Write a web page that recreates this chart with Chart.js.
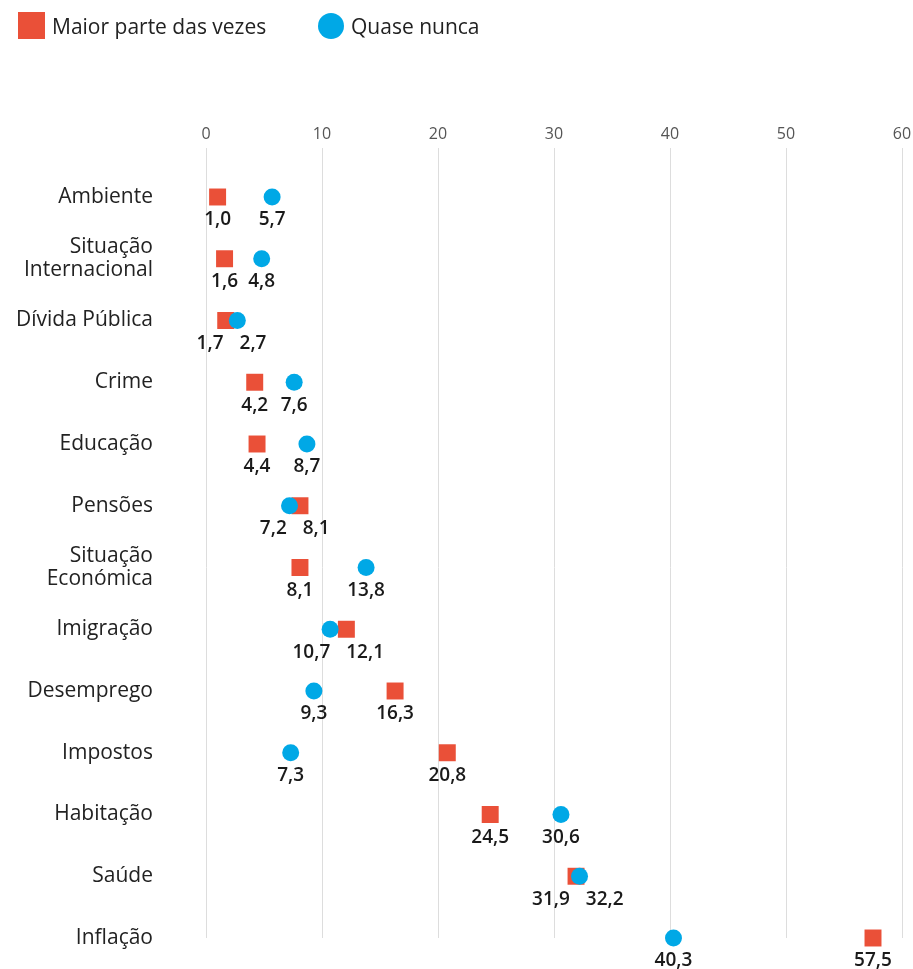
<!DOCTYPE html>
<html>
<head>
<meta charset="utf-8" />
<script src="https://cdn.jsdelivr.net/npm/chart.js@4"></script>
<style>
  body { margin: 0; background: #fff; font-family: 'Open Sans', sans-serif; }
  #wrap { position: relative; width: 913px; height: 969px; }
  .item { position: absolute; top: 12px; display: flex; align-items: center; font-size: 21px; color: #222; height: 27px; }
  .sw { display: inline-block; width: 27px; height: 27px; margin-right: 7px; }
</style>
</head>
<body>
<div id="wrap">
  <div class="item" style="left:18px"><span class="sw" style="background:#ea5038"></span>Maior parte das vezes</div>
  <div class="item" style="left:318px"><span class="sw" style="background:#00a8e6;border-radius:50%;width:26px;height:26px"></span>Quase nunca</div>
  <canvas id="chart" width="913" height="969"></canvas>
</div>
<script>
// categorias (linhas)
var temas = [
  'Ambiente', ['Situação', 'Internacional'], 'Dívida Pública', 'Crime', 'Educação', 'Pensões',
  ['Situação', 'Económica'], 'Imigração', 'Desemprego', 'Impostos', 'Habitação', 'Saúde', 'Inflação'
];
var maiorParte = [1.0, 1.6, 1.7, 4.2, 4.4, 8.1, 8.1, 12.1, 16.3, 20.8, 24.5, 31.9, 57.5];
var quaseNunca = [5.7, 4.8, 2.7, 7.6, 8.7, 7.2, 13.8, 10.7, 9.3, 7.3, 30.6, 32.2, 40.3];
var xTicks = [0, 10, 20, 30, 40, 50, 60];

var red = '#ea5038';
var blue = '#00a8e6';

function fmt(v) { return v.toFixed(1).replace('.', ','); }

// labels under the markers, pushed apart when they collide
var valueLabels = {
  id: 'valueLabels',
  afterDatasetsDraw: function(chart) {
    var ctx = chart.ctx;
    var xs = chart.scales.x, ys = chart.scales.y;
    ctx.save();
    ctx.font = '600 19px "Open Sans"';
    ctx.fillStyle = '#1a1a1a';
    ctx.textAlign = 'center';
    ctx.textBaseline = 'middle';
    for (var i = 0; i < temas.length; i++) {
      var y = ys.getPixelForValue(i) + 23;
      var a = { t: fmt(maiorParte[i]), x: xs.getPixelForValue(maiorParte[i]) };
      var b = { t: fmt(quaseNunca[i]), x: xs.getPixelForValue(quaseNunca[i]) };
      a.w = ctx.measureText(a.t).width;
      b.w = ctx.measureText(b.t).width;
      var left = a.x <= b.x ? a : b;
      var right = left === a ? b : a;
      var need = (left.w + right.w) / 2 + 10;
      if (right.x - left.x < need) {
        var mid = (left.x + right.x) / 2;
        var sep = need + 6;
        left.lx = mid - sep / 2;
        right.lx = mid + sep / 2;
      } else {
        left.lx = left.x;
        right.lx = right.x;
      }
      ctx.fillText(a.t, a.lx, y);
      ctx.fillText(b.t, b.lx, y);
    }
    ctx.restore();
  }
};

var ctx = document.getElementById('chart').getContext('2d');
var chart = new Chart(ctx, {
  type: 'line',
  data: {
    labels: temas,
    datasets: [{
      label: 'Maior parte das vezes',
      data: maiorParte,
      showLine: false,
      pointStyle: 'rect',
      pointRadius: 12,
      pointBackgroundColor: red,
      pointBorderWidth: 0,
      clip: false,
      order: 2
    }, {
      label: 'Quase nunca',
      data: quaseNunca,
      showLine: false,
      pointStyle: 'circle',
      pointRadius: 8.5,
      pointBackgroundColor: blue,
      pointBorderWidth: 0,
      clip: false,
      order: 1
    }]
  },
  options: {
    indexAxis: 'y',
    responsive: false,
    animation: false,
    layout: { autoPadding: false, padding: { top: 110, right: 11, left: 0, bottom: 31 } },
    plugins: { legend: { display: false }, tooltip: { enabled: false } },
    scales: {
      x: {
        position: 'top',
        min: 0, max: 60,
        afterBuildTicks: function(s) { s.ticks = xTicks.map(function(v) { return { value: v }; }); },
        afterFit: function(s) { s.height = 87; s.paddingLeft = 0; s.paddingRight = 0; },
        grid: { color: '#dddddd', lineWidth: 1, drawTicks: true, tickLength: 49 },
        border: { display: false },
        ticks: { font: { family: 'Open Sans', size: 16 }, color: '#555', padding: 4 }
      },
      y: {
        type: 'category',
        offset: false,
        afterFit: function(s) { s.width = 206; s.paddingTop = 0; s.paddingBottom = 0; },
        grid: { display: false, drawTicks: false },
        border: { display: false },
        ticks: { font: { family: 'Open Sans', size: 21, lineHeight: 1.1 }, color: '#222', padding: 53 }
      }
    }
  },
  plugins: [valueLabels]
});
</script>
</body>
</html>
